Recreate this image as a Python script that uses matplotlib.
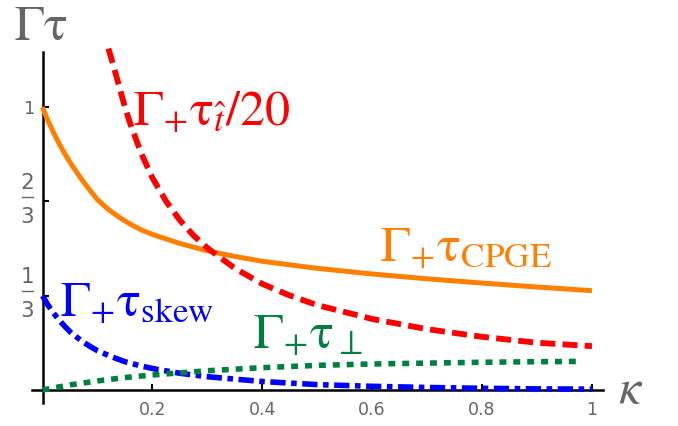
import matplotlib
matplotlib.use('Agg')
import matplotlib.pyplot as plt

plt.rcParams['mathtext.fontset'] = 'stix'
plt.rcParams['lines.scale_dashes'] = False

# ---- data ----
kappa_cpge = [0, 0.005, 0.01, 0.02, 0.03, 0.04, 0.05, 0.06, 0.07, 0.08, 0.09, 0.1, 0.12, 0.14,
              0.16, 0.18, 0.2, 0.25, 0.3, 0.35, 0.4, 0.5, 0.6, 0.7, 0.8, 0.9, 1.0]
tau_cpge = [1.0, 0.975, 0.952, 0.91, 0.872, 0.837, 0.805, 0.776, 0.748, 0.722, 0.697, 0.673, 0.638, 0.61,
            0.586, 0.566, 0.55, 0.518, 0.492, 0.472, 0.455, 0.43, 0.41, 0.393, 0.378, 0.364, 0.351]

kappa_that = [0.12, 0.13, 0.14, 0.15, 0.16, 0.18, 0.2, 0.225, 0.25, 0.275, 0.3, 0.35, 0.4, 0.45,
              0.5, 0.6, 0.7, 0.8, 0.9, 1.0]
tau_that = [1.207, 1.14, 1.07, 1.0, 0.94, 0.835, 0.75, 0.667, 0.60, 0.546, 0.502, 0.43, 0.375, 0.334,
            0.30, 0.251, 0.215, 0.188, 0.167, 0.155]

kappa_skew = [0, 0.01, 0.02, 0.03, 0.04, 0.05, 0.06, 0.075, 0.09, 0.1, 0.125, 0.15, 0.175, 0.2,
              0.25, 0.3, 0.4, 0.5, 0.6, 0.7, 0.8, 0.9, 1.0]
tau_skew = [0.333, 0.30, 0.272, 0.248, 0.226, 0.206, 0.19, 0.168, 0.15, 0.139, 0.118, 0.10, 0.087, 0.076,
            0.059, 0.047, 0.030, 0.019, 0.013, 0.009, 0.006, 0.004, 0.003]

kappa_perp = [0, 0.05, 0.1, 0.15, 0.2, 0.3, 0.4, 0.5, 0.6, 0.7, 0.8, 0.9, 0.98]
tau_perp = [0.0, 0.018, 0.032, 0.044, 0.053, 0.068, 0.079, 0.087, 0.092, 0.095, 0.098, 0.100, 0.101]

xtick_vals = [0.2, 0.4, 0.6, 0.8, 1.0]
xtick_labels = ['0.2', '0.4', '0.6', '0.8', '1']
ytick_vals = [1/3, 2/3, 1.0]
ytick_labels = ['', '', '1']
frac_vals = [1/3, 2/3]
frac_num = ['1', '2']
frac_den = ['3', '3']

ORANGE = '#FF8000'
RED = '#FF0000'
BLUE = '#0000FF'
GREEN = '#008040'
GRAY = '#666666'

fig = plt.figure(figsize=(6.78, 4.26), dpi=100)
ax = fig.add_axes([0.0473, 0.054, 0.842, 0.834])
ax.set_xlim(-0.019, 1.02)
ax.set_ylim(-0.046, 1.21)

ax.plot(kappa_cpge, tau_cpge, color=ORANGE, lw=3.6, solid_capstyle='butt', zorder=3)
ax.plot(kappa_that, tau_that, color=RED, lw=4.2, dashes=(10.8, 5.2), zorder=4, clip_on=False)
ax.plot(kappa_skew, tau_skew, color=BLUE, lw=4.0, dashes=(11, 4, 4, 4), zorder=3)
ax.plot(kappa_perp, tau_perp, color=GREEN, lw=4.0, dashes=(5, 5), zorder=3)

for s in ['top', 'right']:
    ax.spines[s].set_visible(False)
ax.spines['left'].set_position(('data', 0))
ax.spines['bottom'].set_position(('data', 0))
ax.spines['left'].set_bounds(-0.046, 1.194)
for s in ['left', 'bottom']:
    ax.spines[s].set_linewidth(1.8)
    ax.spines[s].set_color('black')

ax.set_xticks(xtick_vals)
ax.set_xticklabels(xtick_labels, fontsize=12.5, color=GRAY, family='DejaVu Sans')
ax.set_yticks(ytick_vals)
ax.set_yticklabels(ytick_labels, fontsize=13, color=GRAY, family='DejaVu Sans')
ax.tick_params(axis='x', direction='in', length=4.5, width=1.5, pad=8)
ax.tick_params(axis='y', direction='in', length=4.5, width=1.5, pad=5)

# stacked fraction tick labels
ytr = ax.get_yaxis_transform()
for v, n, d in zip(frac_vals, frac_num, frac_den):
    ax.text(-0.0082, v + 0.045, n, transform=ytr, ha='center', va='baseline',
            fontsize=15.5, color=GRAY, family='DejaVu Sans', clip_on=False)
    ax.text(-0.0082, v - 0.075, d, transform=ytr, ha='center', va='baseline',
            fontsize=15.5, color=GRAY, family='DejaVu Sans', clip_on=False)
    ax.plot([-0.0182, 0.0016], [v + 0.016, v + 0.016], transform=ytr, color=GRAY,
            lw=1.0, clip_on=False)

fs = 36
ax.text(0.165, 0.936, r'$\Gamma_{+}\mathrm{τ}_{\hat{t}}/20$', color=RED, fontsize=fs, va='baseline')
ax.text(0.614, 0.453, r'$\Gamma_{+}\mathrm{τ}_{\mathrm{CPGE}}$', color=ORANGE, fontsize=fs, va='baseline')
ax.text(0.032, 0.261, r'$\Gamma_{+}\mathrm{τ}_{\mathrm{skew}}$', color=BLUE, fontsize=fs, va='baseline')
ax.text(0.383, 0.148, r'$\Gamma_{+}\mathrm{τ}_{\perp}$', color=GREEN, fontsize=fs, va='baseline')

fig.text(14/678, 1 - 40/426, r'$\Gamma\mathrm{τ}$', color=GRAY, fontsize=fs, va='baseline', ha='left')
fig.text(618/678, 1 - 403/426, r'$\kappa$', color=GRAY, fontsize=fs, va='baseline', ha='left')

fig.savefig('out.png', dpi=100)
